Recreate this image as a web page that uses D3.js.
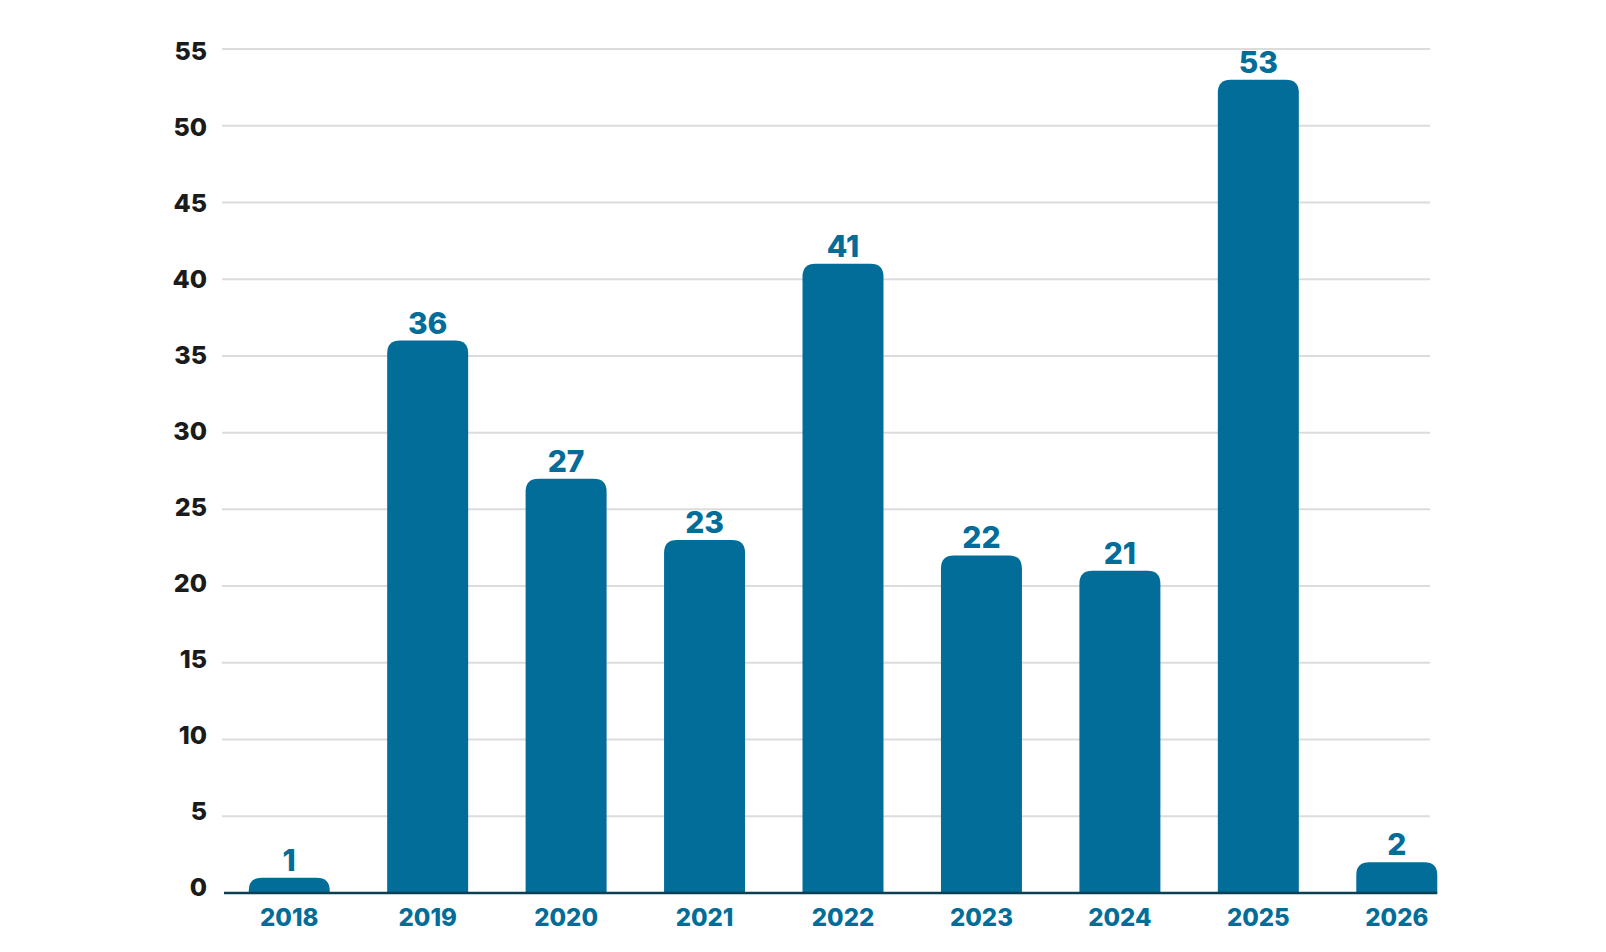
<!DOCTYPE html>
<html>
<head>
<meta charset="utf-8">
<script src="https://cdn.jsdelivr.net/npm/d3@7"></script>
<style>
  html, body { margin: 0; padding: 0; background: #fff; }
  svg text { font-family: Inter, "Open Sans", sans-serif; font-weight: 800; }
</style>
</head>
<body>
<svg id="chart" width="1606" height="952"></svg>
<script>
const years = ["2018", "2019", "2020", "2021", "2022", "2023", "2024", "2025", "2026"];
const counts = [1, 36, 27, 23, 41, 22, 21, 53, 2];
const yTicks = [0, 5, 10, 15, 20, 25, 30, 35, 40, 45, 50, 55];

const barColor = "#026d99";
const svg = d3.select("#chart");

const x = d3.scaleBand().domain(years).range([220, 1466]).paddingInner(0.415).paddingOuter(0.2075);
const y = d3.scaleLinear().domain([0, 55]).range([893, 49]);
// tick labels sit on a slightly tighter scale than the gridlines in the original
const yLab = d3.scaleLinear().domain([0, 55]).range([895.5, 60]);

// gridlines
svg.append("g").selectAll("line").data(yTicks.filter(d => d > 0)).join("line")
  .attr("x1", 222).attr("x2", 1430)
  .attr("y1", d => y(d)).attr("y2", d => y(d))
  .attr("stroke", "#dcdcdc").attr("stroke-width", 2);

// y labels
svg.append("g").selectAll("text").data(yTicks).join("text")
  .attr("x", 207).attr("y", d => yLab(d))
  .attr("text-anchor", "end")
  .attr("font-size", 25).attr("fill", "#1b1b1b")
  .text(d => d);

// bars with rounded top corners
const r = 13;
function barPath(d, i) {
  const x0 = x(years[i]), w = x.bandwidth();
  const yt = y(d), yb = y(0);
  const rr = Math.min(r, (yb - yt));
  return `M${x0},${yb} L${x0},${yt + rr} Q${x0},${yt} ${x0 + rr},${yt} L${x0 + w - rr},${yt} Q${x0 + w},${yt} ${x0 + w},${yt + rr} L${x0 + w},${yb} Z`;
}
svg.append("g").selectAll("path").data(counts).join("path")
  .attr("d", barPath).attr("fill", barColor);

// value labels
svg.append("g").selectAll("text").data(counts).join("text")
  .attr("x", (d, i) => x(years[i]) + x.bandwidth() / 2)
  .attr("y", d => y(d) - 7)
  .attr("text-anchor", "middle")
  .attr("font-size", 30).attr("fill", barColor)
  .text(d => d);

// baseline axis
svg.append("line")
  .attr("x1", 224).attr("x2", x(years[years.length - 1]) + x.bandwidth())
  .attr("y1", y(0)).attr("y2", y(0))
  .attr("stroke", "#0d3f52").attr("stroke-width", 2.5);

// x labels
svg.append("g").selectAll("text").data(years).join("text")
  .attr("x", d => x(d) + x.bandwidth() / 2)
  .attr("y", 926)
  .attr("text-anchor", "middle")
  .attr("font-size", 24).attr("fill", barColor)
  .text(d => d);
</script>
</body>
</html>
